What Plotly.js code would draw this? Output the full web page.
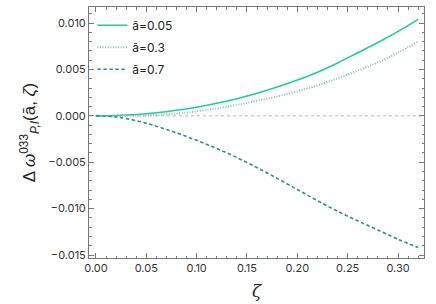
<!DOCTYPE html>
<html>
<head>
<meta charset="utf-8">
<script src="https://cdn.plot.ly/plotly-3.0.1.min.js"></script>
<style>html,body{margin:0;padding:0;background:#fff;}#chart{width:436px;height:304px;}</style>
</head>
<body>
<div id="chart"></div>
<script>
var zeta = [0, 0.02, 0.04, 0.06, 0.08, 0.10, 0.12, 0.14, 0.16, 0.18, 0.20, 0.22, 0.24, 0.26, 0.28, 0.30, 0.32];
var a005 = [0, 0.00003, 0.00014, 0.00033, 0.00060, 0.00093, 0.00135, 0.00185, 0.00243, 0.00310, 0.00385, 0.00470, 0.00570, 0.00680, 0.00790, 0.00910, 0.01040];
var a03 = [0, 0.00000, 0.00003, 0.00011, 0.00026, 0.00048, 0.00080, 0.00118, 0.00162, 0.00210, 0.00265, 0.00328, 0.00405, 0.00487, 0.00575, 0.00680, 0.00800];
var a07 = [0, -0.00012, -0.00052, -0.00112, -0.00184, -0.00264, -0.00352, -0.00450, -0.00558, -0.00674, -0.00794, -0.00914, -0.01028, -0.01132, -0.01230, -0.01330, -0.01420];
var names = ['ā=0.05', 'ā=0.3', 'ā=0.7'];

var traces = [
  {x: zeta, y: a005, name: names[0], legendgroup: 'g1', mode: 'lines', line: {color: '#1ecc9c', width: 1.6, shape: 'spline'}},
  {x: zeta, y: a03, name: names[1], legendgroup: 'g2', mode: 'lines', line: {color: '#8cbcb6', width: 2, dash: '1px,1.6px', shape: 'spline'}},
  {x: zeta, y: a07, name: names[2], legendgroup: 'g3', mode: 'lines', line: {color: '#2e8d91', width: 1.6, dash: '3.5px,2.5px', shape: 'spline'}}
];

var axisCommon = {
  showgrid: false, zeroline: false, showline: true, linecolor: '#777', linewidth: 1,
  mirror: 'ticks', ticks: 'inside', ticklen: 5, tickcolor: '#777', tickwidth: 1,
  tickfont: {family: 'Inter, sans-serif', size: 11, color: '#333'}
};

var layout = {
  width: 436, height: 304,
  margin: {l: 89, r: 12, t: 7, b: 46},
  paper_bgcolor: '#fff', plot_bgcolor: '#fff',
  showlegend: true,
  legend: {x: 0.01, y: 0.985, xanchor: 'left', yanchor: 'top', bgcolor: 'rgba(0,0,0,0)',
    font: {family: 'Inter, sans-serif', size: 12, color: '#222'}, tracegroupgap: 3, itemwidth: 30},
  xaxis: Object.assign({}, axisCommon, {
    range: [-0.0069, 0.3258], tickvals: [0, 0.05, 0.10, 0.15, 0.20, 0.25, 0.30],
    ticktext: ['0.00', '0.05', '0.10', '0.15', '0.20', '0.25', '0.30'],
    minor: {dtick: 0.01, tick0: 0, ticks: 'inside', ticklen: 2.5, tickcolor: '#777'},
    title: {text: '<i>ζ</i>', font: {family: 'DejaVu Serif, serif', size: 17, color: '#222'}, standoff: 10}
  }),
  yaxis: Object.assign({}, axisCommon, {
    range: [-0.01532, 0.01173], tickvals: [-0.015, -0.010, -0.005, 0, 0.005, 0.010],
    ticktext: ['\u22120.015', '\u22120.010', '\u22120.005', '0.000', '0.005', '0.010'],
    minor: {dtick: 0.001, tick0: 0, ticks: 'inside', ticklen: 2.5, tickcolor: '#777'},
    title: {text: 'Δ <i>ω</i><sup>033</sup><sub><i>P,I</i></sub>(ā, <i>ζ</i>)', font: {family: 'Liberation Sans, sans-serif', size: 17, color: '#222'}, standoff: 8}
  }),
  shapes: [{type: 'line', xref: 'paper', x0: 0, x1: 1, yref: 'y', y0: 0, y1: 0,
    line: {color: '#b5b5b5', width: 1, dash: 'dot'}, layer: 'below'}]
};

Plotly.newPlot('chart', traces, layout, {displayModeBar: false, staticPlot: true});
</script>
</body>
</html>
